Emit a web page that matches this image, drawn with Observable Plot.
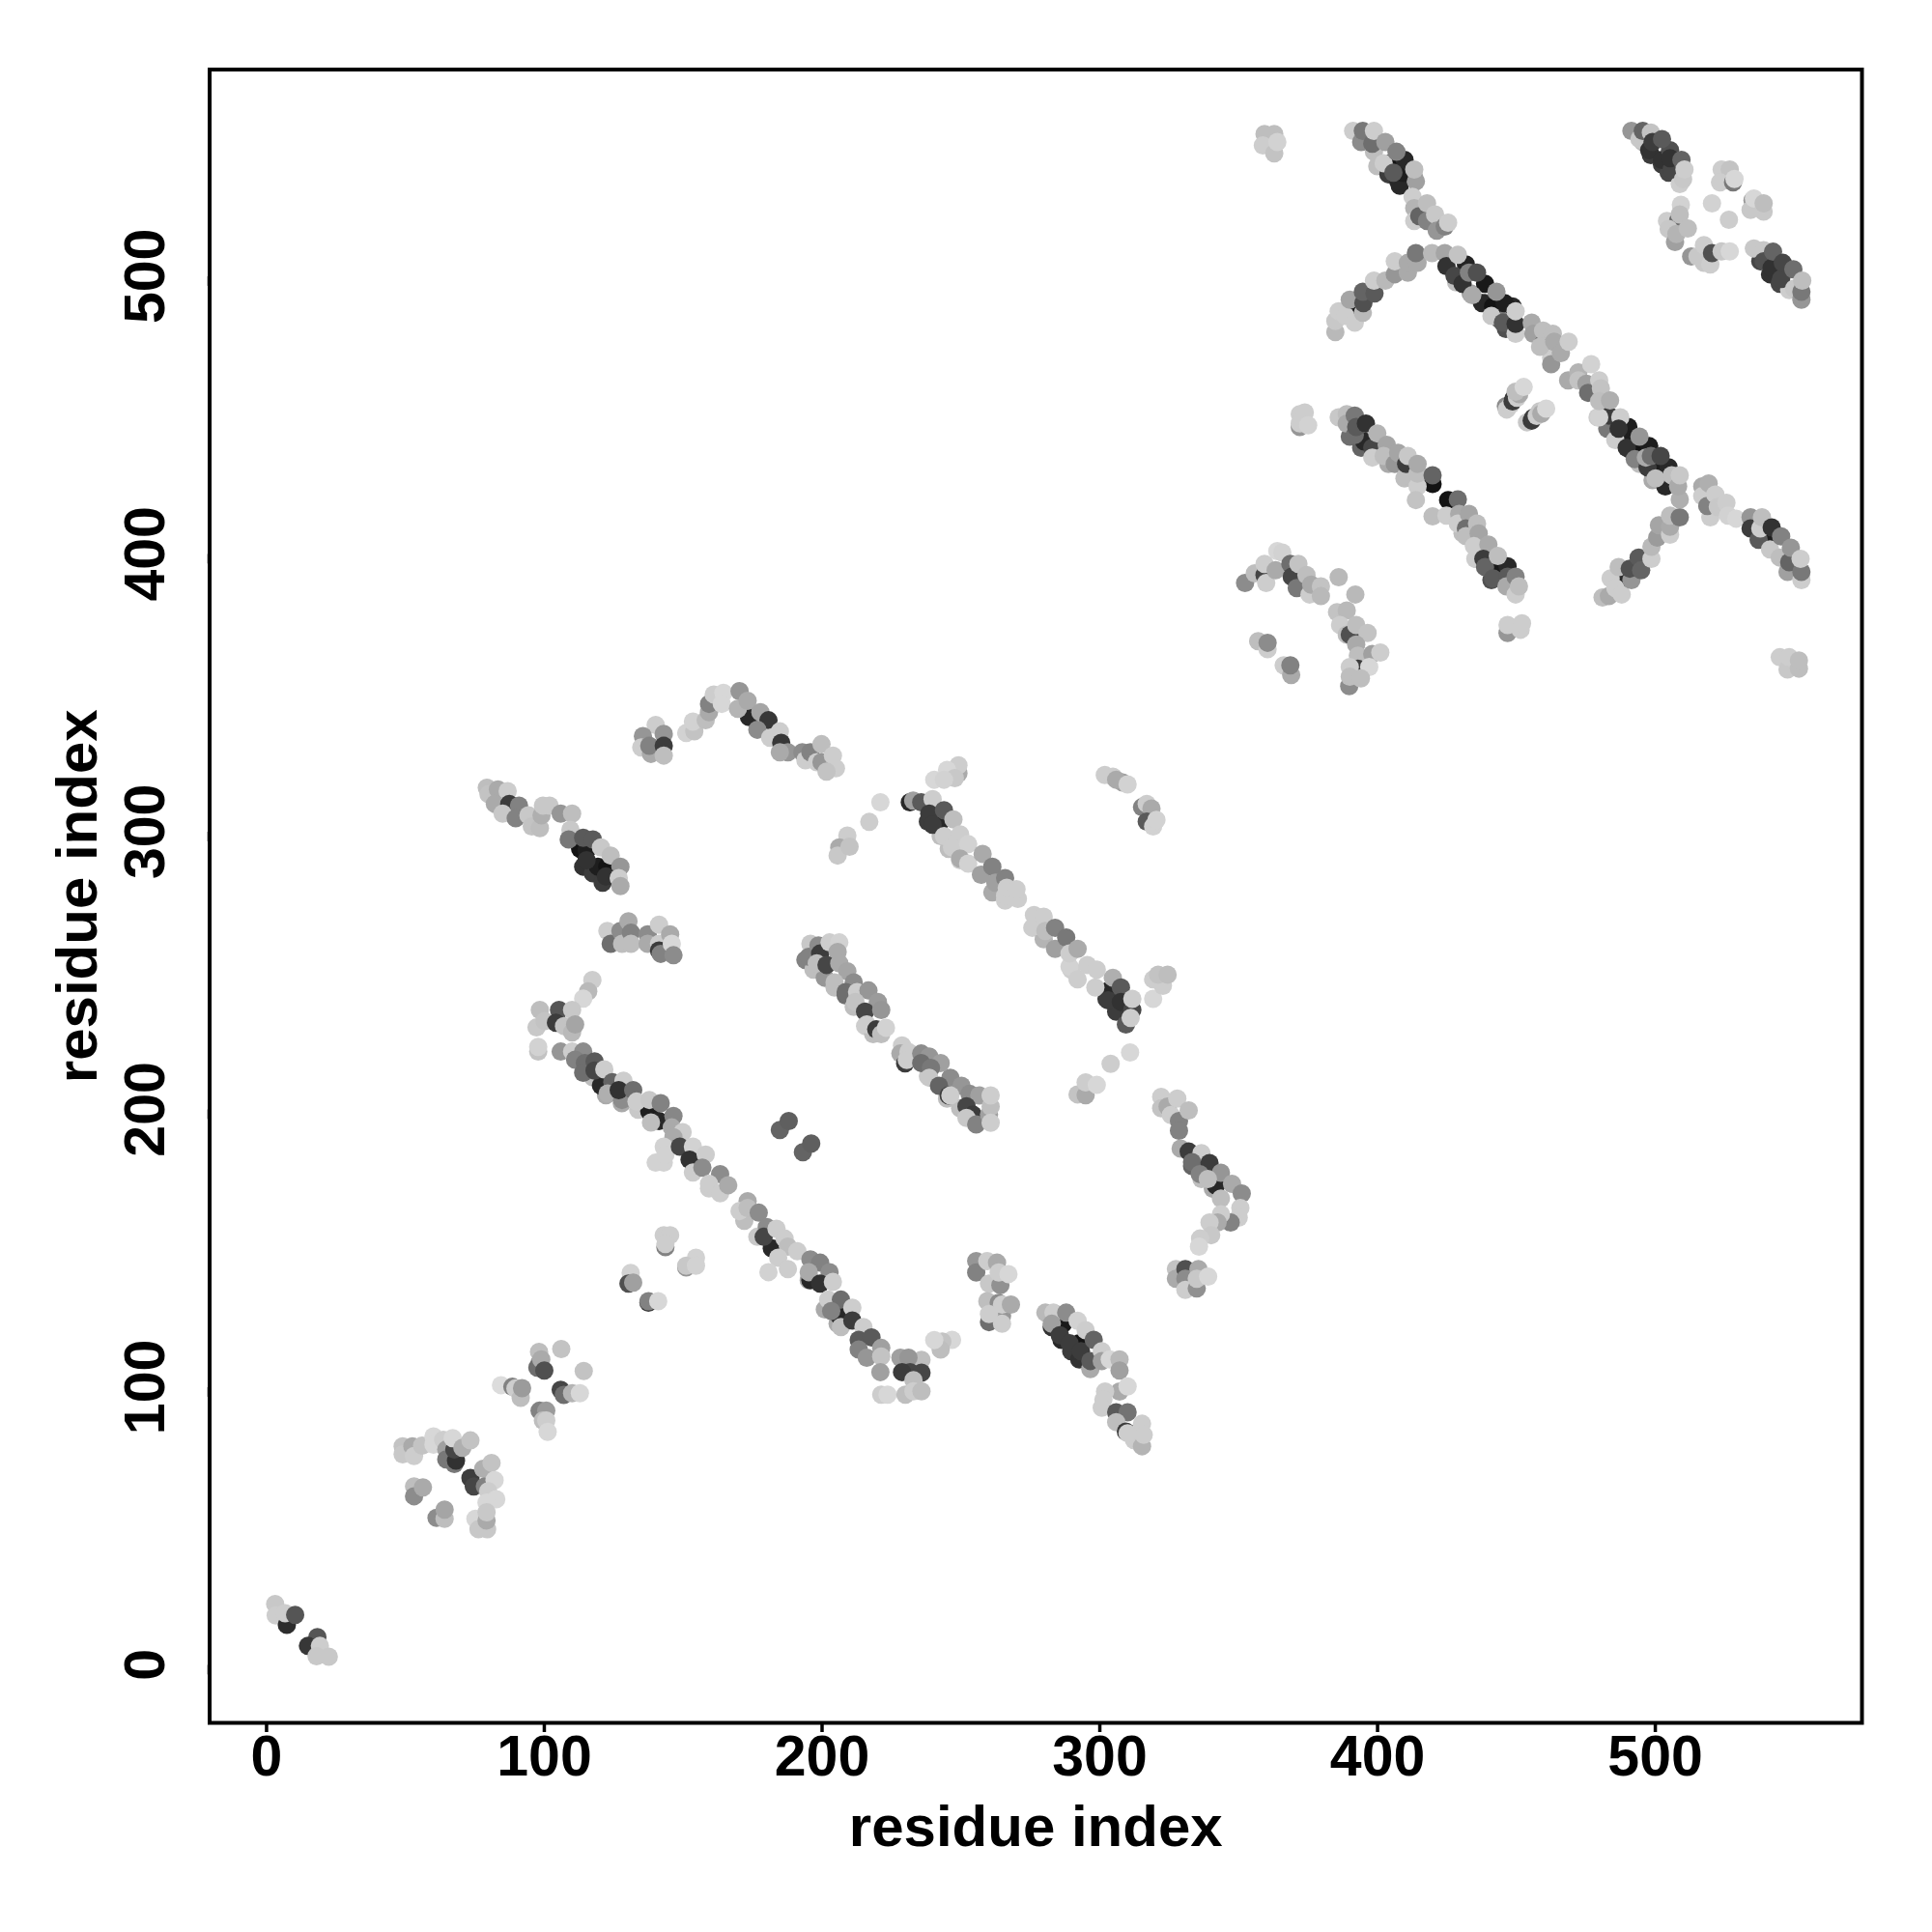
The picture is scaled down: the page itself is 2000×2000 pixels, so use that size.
<!DOCTYPE html>
<html><head><meta charset="utf-8">
<style>html,body{margin:0;padding:0;background:#fff}</style>
<script src="https://cdn.jsdelivr.net/npm/d3@7"></script>
<script src="https://cdn.jsdelivr.net/npm/@observablehq/plot@0.6"></script>
</head><body><div id="chart"></div>
<script>
// each entry: [residue i, residue j, grey level]
const c1=[[3.1,21.9,200],[3.3,17.8,205],[7.3,14.4,45],[6.7,18.6,205],[10.3,18,85],[18.3,10,85],[14.9,6.8,55],[19.2,6.8,205],[18,3.1,200],[22.4,2.9,200]];
const c2=[[49,78.7,195],[49,75.8,200],[52.5,78.7,170],[53.1,75.2,205],[56,78.9,195],[60.1,82.2,215],[60.1,79.3,215],[63.6,81,205],[64.7,77.5,160],[64.7,74,120],[67.6,72.3,120],[68.2,73.5,50],[67.6,77.5,70],[67,81.6,215],[70.5,78.1,175],[73.4,80.8,195],
[73.4,67.3,60],[74.6,64.2,70],[78,70.6,175],[78.6,64.2,130],[81,72.7,195],[82.1,66.5,215],[79.8,62.5,205],[82.7,59.6,215],[79.2,58.4,215],
[53.1,64.2,190],[53.1,60.7,140],[56.3,63.9,170],[61.2,52.9,140],[64.1,52.6,190],[64.1,55.9,165],
[75.2,52.6,215],[76.3,48.8,200],[79.4,48.8,200],[79.2,52,170],[79.2,54.9,200]];
const c3=[[98.1,112.7,190],[106.1,113.7,195],[114.2,105.8,195],[98.3,108.8,150],[97.5,107,110],[98.9,110,170],[100,106,80],
[84.4,100.7,220],[88.5,100.1,130],[89.6,99.5,205],[91.5,96.1,190],[92,99.6,155],
[105.9,99,70],[107,97.2,110],[110,97.8,180],[112.8,97.8,215],
[98.3,91.5,130],[100.7,91.5,155],[99.5,88,190],[100.7,88,205],[101.2,83.9,215]];
const c4=[[143,154.7,205],[145.3,154.7,205],[143.6,150.4,130],[143.6,151.5,205],[151.1,143.1,150],[154.6,146.6,210],[151.1,143.7,200],[154.6,143.7,210],
[131.1,141.1,210],[130.3,137.3,80],[132,137.6,160],[137.5,130.4,60],[137.5,130.9,130],[141,130.9,215]];
const b1=[[117.3,246.6,205],[115.8,242.5,185],[114,239.9,215],[98.4,235.8,190],[97.2,229.5,200],[100.1,231.8,195],[105.3,235.8,85],[104.2,231.2,60],[110,235.8,200],[107.1,230,195],[110,227.7,185],[111.1,230.6,165],
[97.8,220.8,195],[97.8,222.5,210],[105.9,220.8,150],[110,220.8,205],[114,220.8,140],[111.1,217.9,130],[114.6,216.7,110],[114,213.2,110],[118.1,217.3,90],[118.1,214,70],[121.6,214.4,205],
[120.4,208.6,40],[124.5,209.8,100],[123.9,206.3,40],[122.8,205.7,175],[128.5,210.3,205],[128,203.4,140],[126.8,206.9,50],[132,206.9,110],[133.2,202.8,205],
[137.8,199.3,30],[137.8,203.4,200],[141.9,202.2,130],[138.4,195.3,190],[141.3,195.8,40],[146.5,197.6,135],[145.9,193.5,170],
[149.8,191.8,205],[146.5,190,170],[143,186.6,210],[140.1,180.8,210],[143,180.8,210],[143.6,183.7,210],
[148.8,186.6,70],[153.5,186.6,210],[152.3,181.9,50],[158.1,183.7,205],[153.5,177.3,205],[156.9,179,140],
[163.3,176.7,140],[159.3,173.2,205],[163.3,169.8,205],[166.2,172.7,170]];
const b2=[[173.2,166.9,170],[170.3,163.4,205],[173.2,164.5,190],[177.2,162.8,140],[176.7,154.1,200],[180.1,157.6,140],[179,154.1,70],[183.6,157,205],[181.9,150,40],[186.5,153.5,205],[187.7,150.6,190],[184.2,146.6,205],[180.7,141.4,210],[187.7,142.5,205],[191.1,148.9,205],
[195.8,146,140],[199.3,144.8,130],[195.2,141.4,170],[202.7,141.4,140],[195.8,138.5,40],[199.3,137.3,50],[203.9,137.9,205],[202.2,131.5,205],[206.8,131.5,110],[203.3,127.4,130],[210.9,128.6,205],[206.2,125.7,40],[206.8,121.6,190],[210.9,124,60],[214.9,121.6,205],[213.2,117,90],[217.8,117.9,90],[213.2,113.5,130],[216.1,110.6,150],[221.3,114.1,160],[221.3,111,195],[221,105.4,160]];
const b3=[[246.8,117,215],[243.3,116.4,195],[242.7,113.5,190],[240.4,116.9,215],[235.8,109.8,190],[228.2,110.6,160],[231.1,110.6,150],[231.7,105.4,70],[228.8,105.4,60],[235.8,105.2,70],[232.9,102.5,190],[221.3,97.3,205],[223.6,97.3,215],[230,97.3,190],[232.9,98.5,205],[235.8,98.5,190]];
const pairs=[[184.8,192.6,100],[188,195.8,95],[193.1,184.6,100],[196.1,187.7,95]];
const b4=[[79.3,315.8,190],[79.9,313.5,195],[83.3,315.2,170],[86.8,314.6,205],[82.2,310,170],[87.4,310,60],[90.9,309.4,130],[85,306.5,200],[89.7,304.8,130],[94.3,305.9,200],[95.5,301.9,195],[98.4,301.3,190],[99,305.9,175],[99.5,309.4,200],[101.9,309.4,200],[105.9,306.5,150],[110,306.5,190],
[109.4,300.7,200],[108.8,297.2,120],[114,297.8,90],[117.5,297.2,90],[112.9,293.8,20],[115.2,293.2,30],[120.4,294.3,200],[115.2,289.7,50],[119.3,287.4,30],[123.9,291.4,190],[122.7,287.4,20],[127.4,287.4,150],[122.2,283.9,50],[126.8,283.3,205],[127.4,280.4,170]];
const c5=[[122.7,264.2,205],[123.9,259.6,110],[127.4,264.2,140],[128,259.6,190],[130.3,267.7,170],[131.2,263.6,130],[131.2,259.6,190],
[137.2,263,140],[137.2,259.6,170],[141.3,266.5,205],[141.3,259.6,205],[141.3,257.2,60],[141.9,256,130],[145.3,263,170],[145.9,259.6,215],[146.5,255.5,140]];
const c6=[[140.1,338.4,205],[135.5,334.4,150],[134.9,330.3,205],[138.4,328,170],[137.8,330.9,130],[143,335.2,150],[143,330.9,60],[143,327.4,190],
[151.1,335.5,210],[154,336.1,195],[153.5,339.6,210],[158.1,340.1,190],[159.3,343,170],[159.3,346,130],[161,349.4,205],[164.5,350,215],[163.9,346,215]];
const b5=[[170.3,350.6,150],[169.7,344.2,180],[173.2,347.1,170],[173.7,341.3,40],[177.8,343,165],[180.7,340.1,55],[176.7,336.7,140],[181.3,333.8,205],[184.8,336.1,205],[185.3,332,55],[187.7,328.6,150],[184.8,328.6,170],[192.9,328.6,140],[194,325.7,205],[195.8,328.6,130],[199.8,331.5,190],[198.1,325,205],[199.8,325,150],[203.9,327.4,205],[205,322.8,205],[201.6,321.6,195]];
const iso1=[[221,310.6,215],[217,303.5,205],[209.1,298.6,205],[206.2,294.3,170],[205.6,291.4,200],[209.9,294.6,195]];
const b6=[[249.1,321,170],[249.1,323.9,205],[245,322.2,215],[240.4,318.7,215],[247.8,319.3,200],[243.9,318.7,210],
[231.6,310.6,40],[232.8,311.2,160],[235.7,310.6,90],[239.8,311.7,205],[238.6,306.5,60],[243.9,307.7,90],[239.8,302.5,60],[242.7,303.6,40],[247.3,304.4,190],[243.9,298.4,205],[249.7,299,205],[246.8,294.3,205],[252.6,295.5,210],[249.7,290.3,170],[252.6,288.5,210],[257.2,284.5,160],[257.8,292,170],[261.3,287.4,130],[262.4,281.6,160],[265.9,283.3,130],[265.9,276.9,205],[266.5,279.8,205],[270.5,275.8,205],[270,279.3,205],
[276.3,265.9,205],[276.3,270,205],[279.8,269.4,205],[280.4,264.2,190],[283.9,265.4,130],[283.9,257.8,160],[287.9,261.9,120],[289.1,251.4,210],[289.1,256.1,205],[292,257.8,170],[292,246.8,205],[295.5,252,205],[298.4,243.9,205],[298.9,250.3,205],[304.7,247.4,175],[303,242.7,40],[303,239.3,60],[307.6,243.9,90],[307.6,238.7,50],[311.7,235.8,70],[311.7,239.8,205],[311.1,232.9,205],
[319.2,239.8,215],[319.2,246.8,205],[322.7,244.5,205],[321,248.5,195],[324.4,248.5,190]];
const c7=[[301.8,320.4,205],[304.7,319.8,205],[308.2,317.7,160],[305.9,318.7,170],[310,317,210],[315.2,308.8,130],[316.9,310,205],[318.6,308.3,170],[316.9,303.6,90],[319.2,301.9,210],[320.4,304.2,210]];
const b7=[[195.8,259.6,200],[195.2,254.9,130],[198.7,259,140],[199.3,256.1,60],[202.7,260.1,205],[206.2,260.1,210],[205.6,256.7,170],[198.1,252.6,190],[201.6,252,70],[206.2,252.6,170],[209.1,249.7,165],[204.5,245.7,190],[211.4,245.7,140],[208.5,242.2,110],[212.6,242.2,205],[216.7,242.8,150],[212,238.7,195],[220.1,238.7,155],[215.5,235.2,70],[221.3,235.8,150],[216.1,230.6,205],[219.5,228.8,60],[221.3,227.1,190],[223,229.4,210]];
const b8=[[228.8,223,205],[228.2,220.1,170],[231.1,220.7,205],[229.9,216.6,60],[230.5,217.8,205],[235.7,220.1,140],[238.6,219,150],[235.7,216.7,110],[242.7,216.7,160],[239.2,214.9,120],[238.6,211.4,200],[246.2,211.4,140],[242.1,208.5,100],[250.2,208.5,150],[245.6,205,60],[246.2,205,205],[253.1,205.6,140],[256.6,205,160],[252,201.1,70],[254.3,198.1,60],[252,196.9,200],[255.5,194.6,130],[260.1,198.1,160],[260.7,201,190],[260.7,205,205],[260.7,195.2,205]];
const iso2=[[310.9,220.5,215],[303.9,216.4,205],[292,205.4,195],[294.9,205.1,170],[294.9,209.7,205],[298.9,208.8,215]];
const b9=[[322.1,204.5,205],[322.1,200.4,195],[324.4,201,170],[327.9,203.9,205],[325.6,198,205],[328.5,195.8,130],[328.5,192.3,130],[332,199.6,190],
[329.1,185.9,170],[332,184.8,60],[336.6,184.2,205],[333.2,181,110],[339.5,180.7,60],[336,176.7,130],[343.6,177.2,150],[338.9,174.9,190],[341.8,172.6,40],[343.6,167.9,190],[347.6,173.2,170],[351.1,169.7,140],
[350.6,164.5,205],[350,161,205],[347.1,159.3,130],[343.6,162.2,205],[342.4,159.3,170],[339.5,159.3,205],[340.1,154.7,200],[336.1,153.5,205],[335.7,150.6,215]];
const c8=[[327.4,142.5,195],[327.4,139,170],[330.8,142.5,80],[330.8,139,140],[330.8,135,205],[335.5,142.5,170],[334.9,135.5,145],[334.9,139,200],[339,139.8,215]];
const c9=[[255.5,145.4,150],[255.5,141.3,130],[259.5,145.4,205],[263,144.8,170],[260.1,137.3,200],[264.2,136.7,145],[263.6,141.3,205],[267.1,140.7,215],
[259.5,130.9,190],[260.1,123.4,110],[263.6,130.3,140],[264.8,125.7,150],[264.8,122.8,205],[260.1,126.3,205],[264.8,129.7,205],[268,129.7,170]];
const b10=[[280.4,126.8,185],[283.9,126.3,60],[283.3,126.8,205],[287.9,126.8,140],[282.7,122.8,160],[286.8,122.8,25],[292,123.9,210],[285.6,118.7,60],[289.1,115.8,60],[294.9,120.5,205],[292.6,115.8,20],[293.2,112.9,60],[297.8,117,100],[296.6,109.4,90],[300.7,112.9,205],[300.7,109.4,160],[303.6,110,215],[307.1,110,185],[307.1,106,160],
[307.1,98.4,170],[310,100.2,215],[301.9,98.4,205],[301.3,95.5,205],[300.7,92.6,205],[305.9,90.9,90],[310,90.9,115],[305.9,87.4,190],[309.4,84,60],[312.3,80.9,205],[315.2,78.7,180],[310,83.4,205],[315.2,86.8,205],[315.8,82.8,205]];
const c10=[[352.3,389.5,140],[355.8,393,190],[359.3,392.4,70],[359.3,396.4,205],[359.9,389.5,205],[363.9,401,215],[365.7,400.5,210],[363.3,394.1,170],[368.6,396.4,110],[369.1,391.8,70],[371.5,396.4,195],[370.9,387.7,120],[374.4,392.4,190],[375.5,385.4,205],[376.1,388.9,170],[379.6,388.3,195],[379.6,384.8,185],
[386,391.6,185],[392,385.4,185],
[385.4,379,195],[388.9,379.6,185],[386.5,374.4,205],[388.9,370.9,190],[390,370.9,80],[392.3,374.4,190],[396.4,371.5,195],[392.3,367.4,170],[392.9,363.4,190],[398.1,364,160],[401,364.5,205],[392.9,358.7,60],[390,359.3,205],[397,359.3,215],[389.8,352.4,140],[390,355.8,190],[394,355.2,190],
[357,368.6,190],[360.4,365.7,205],[360.4,368,140],[366.2,359.9,205],[368.9,356.4,170],[368.6,359.9,130]];
const c11=[[372,445.7,150],[372,450.3,205],[373.8,450.9,205],[372,447,205],[375,446.3,210]];
const b11=[[386,449.2,200],[388.9,450.3,190],[388.9,446.9,170],[391.8,449.8,120],[391.8,442.8,110],[392.3,445.7,90],[395.8,446.9,50],[395.2,440.5,40],[398.1,438.2,70],[398.1,434.7,205],[399.9,443.4,180],[403.3,439.3,165],[402.2,435.3,190],[406.2,432.4,150],[407.4,436.4,165],[410.3,428.3,190],[410.3,432.4,60],[410.9,435.3,200],[414.4,424.3,205],[414.4,428.9,190],[414.4,432.4,170],
[419.8,425.2,20],[419.8,428.3,100],[413.8,419.4,195],[419.8,413.5,190],[425.4,419.4,20],[428.9,419.6,110],
[424.8,413.8,205],[429.4,414.4,170],[428.9,410.9,205],[432.9,414.4,165],[431.8,409.2,110],[431.8,406.4,190],[435.8,410.9,190],[436.4,407.4,165],[434.7,402.8,205],[439.9,403.4,170],[435.2,398.2,205],[438.1,398.2,60],[438.7,395.3,100],[441.6,391.2,90],[441.6,394.7,25],[443.3,399.3,190],[446.8,391.8,90],[446.8,395.5,40],[446.4,388.3,170],[449.7,385.4,205],[449.7,391.8,130],[450.9,388.3,190]];
const c12=[[446.8,371.5,150],[446.8,374.4,205],[451.5,372.7,205],[452,375,205]];
const b12=[[481,384.3,190],[483.3,384.8,170],[483.9,391.2,205],[486.8,395.3,190],[486.8,390.6,40],[485.6,387.7,205],[487.9,385.4,205],[491.4,390.6,150],[490.8,394.7,80],[494,398.7,90],[494.9,394.1,100],[498.6,398.2,205],[498.6,402.6,185],[500.7,405.9,155],[501.3,410.3,165],[505.3,406.9,205],[505.3,409.8,170],[505.3,413.8,190],[508.8,413.2,120]];
const b13=[[479.2,449.2,205],[482.7,445.1,120],[483.3,449.8,60],[487.4,449.2,205],[485.6,441,205],[486.8,445.1,50],[490.3,445.7,30],[489.7,441,30],[489.7,438.2,50],[492.6,434.1,130],[493.2,438.2,20],[494.3,442.2,150],[497.2,431.2,60],[496.6,434.7,170],[497.8,438.8,30],[498.4,435.3,110],[500.1,427.2,190],[500.1,430.6,30],[501.9,435.3,70],[503.6,424.3,40],[504.8,431.2,40],[505.9,428.3,190],[508.8,419.6,175],[508.2,424.3,170],[508.8,428.3,200]];
const b14=[[519.8,413.2,205],[516.9,424.3,170],[516.9,420.8,205],[518.7,417.3,130],[519.2,425.4,175],[521.6,421.4,205],[522.5,416.9,200],[525.6,418.4,205],[526.2,413.8,210],[529.1,412.7,215],
[534.3,413.2,150],[534.3,409.2,60],[537.2,405.1,90],[537.8,409.2,205],[538.4,413.2,190],[540.7,405.1,30],[541.3,401.6,200],[541.9,409.5,50],[545.3,406.3,130],[544.8,398.7,190],[547.6,393.5,160],[548.2,397,100],[548.8,402.2,150],[552.6,390.6,205],[552.6,393.5,120],[552.3,398.2,205]];
const c13=[[544.8,362.8,205],[547.6,358.4,200],[548.2,362.8,205],[551.7,358.7,190],[551.7,361.6,190]];
const c14=[[359.3,551.2,190],[362.8,551.2,190],[358.7,547.1,205],[362.8,544.2,195],[363.9,548.3,210]];
const b15=[[391.2,552.3,205],[394.1,548.3,140],[394.7,552.3,120],[398.7,544.8,190],[398.1,547.7,110],[398.7,552.3,205],[402.2,540.7,205],[402.8,548.3,160],[404.5,540.7,20],[405.7,537.3,90],[406.8,544.8,130],[407.4,534.4,40],[409.1,537.3,30],[409.7,541.9,40],[413.8,534.1,160],[413.2,538.4,190],
[412.6,528.6,205],[413.2,524.5,180],[413.2,519.9,205],[415,521.6,100],[417.8,519.9,130],[417.8,526.2,190],[420.7,522.2,200],[421.3,516.4,150],[424.2,517.9,130],[425.4,519.3,205]];
const b16=[[384.8,479.9,185],[384.8,483.9,200],[386,487.4,205],[388.4,485.7,205],[391,486.8,25],[391.8,483.3,205],[390,491.5,165],[394.7,486.8,185],[394.9,490.3,80],[394.7,494.4,100],[398.9,493.8,90],[398.7,498.4,205],[402.8,498.4,185],[406.2,500.7,150],[410.9,501.3,170],[406.2,505.4,205],[410.9,504.8,170],[414.4,504.8,170],[413.8,508.3,120],[419.6,508.3,185]];
const b17=[[424.2,508.3,165],[424.8,503.6,50],[428.9,507.7,195],[427.7,500.1,70],[431.8,504.2,35],[430.6,497.3,50],[432.9,501.3,130],[435.8,501.3,80],[434.1,493.2,170],[438.7,497.3,25],[437.6,490.3,40],[442.8,494.4,150],[441.6,489.1,20],[445.7,490.3,30],[441,485.7,200],[445.1,483.3,90],[449.7,479.3,205],[449.7,482.8,50],[449.7,487.4,205],
[455.5,483.3,170],[456.1,479.3,160],[459.6,475.8,110],[459.6,480.4,190],[462.5,470.6,205],[458.5,474.6,190],[462.5,468.3,150],[463.1,479.3,190],[463.6,476.4,170],[466,472.3,170],[468.8,476.4,205]];
const b18=[[468.6,462.5,170],[472.3,465.4,180],[472.3,462.5,195],[475.2,461.3,160],[475.8,458,110],[476.9,468.3,210],[479.8,462.5,205],[480.4,459.6,195],[479.8,449.2,210],[479.8,455,190],[483.7,455.3,175]];
const c15=[[446.2,453.2,140],[446.5,452,205],[448,453.8,205],[448.6,454.9,60],[449,456,60],[450.2,456.2,205],[451,457.5,170],[449.7,458.4,190],[452.6,460.1,215],[453.8,447.4,200],[455.5,448,60],[456,449,60],[457.3,449.7,205],[458.4,451.4,200],[459,450.5,170],[460.7,452.3,215]];
const b19=[[491.4,552.3,150],[494.3,549.4,200],[495.5,552.3,100],[497.8,545.4,50],[498.4,551.7,195],[499,548.3,60],[502.4,541.9,50],[505.9,538.4,70],[505.3,545.4,80],[505.3,542.5,50],[502.4,549.4,90],[509.4,541.9,100],[510,534.9,200],[510.5,538.4,205]];
const c16=[[523.9,538.4,205],[526.8,538.4,195],[523.3,533.8,205],[528,533.8,120],[528.5,535,215],[520.4,526.2,210],[526.5,520.3,205],[535,527.3,150],[534.3,523.9,200],[539,523.3,200],[535.5,528,215],[539,526.2,190]];
const c17=[[504.2,519.9,205],[509.2,525.7,210],[508.2,519.9,110],[508.8,522.2,190],[504.8,517,200],[507.1,512.3,160],[507.6,515.2,180],[511.7,517.2,190],[512.9,507.1,150],[515.2,507.1,200],[517.5,504.8,200],[519.8,504.2,205],[517.5,511.2,205],[520.4,508.3,80],[523.9,508.9,200],[526.8,508.9,215]];
const b20=[[535.5,510,200],[539,509.4,200],[539,505.4,80],[541.9,503,50],[542.4,508.8,100],[545.3,499,70],[545.9,504.8,70],[545.9,502.5,40],[549.7,502.5,110],[550,495.5,200],[552.6,491.5,150],[552.6,494.4,120],[552.9,498.4,190]];
// points seen only at the lower edge of the bands, drawn first
const edges=[[117.5,211.5,190],[122.2,205.1,170],[127.9,202.2,170],[133.8,199.9,200],[159.3,171.5,205],[172,159.9,190],[195.2,138.5,170],[201,128,170],[205.6,122.8,170],
[114,287.4,50],[117.5,285,60],[121,281.6,60],
[194,253.8,130],[196.9,250.3,190],[201,247.4,150],[204.5,243.9,190],[208.5,241,110],[211.4,236.9,190],[215.5,230,205],[218.4,227.1,190],
[238.1,212,200],[245,203.9,190],[249.7,200.4,190],
[238.1,303.6,60],[242.7,298.4,190],[245.6,293.8,190],[249.7,289.7,205],[261.3,278.1,170],[265.9,275.2,205],[275.7,265.4,205],[279.8,261.3,180],[289.7,250.3,205],[302.4,239.8,60],[305.9,235.2,60],[309.4,230.6,90],
[333.2,179.6,100],[336.6,174.9,190],[340.7,171.4,170],
[282.7,121.6,50],[286.2,117,40],[289.7,112.9,60],[292.6,110,50],[296.6,106.5,170],
[390,442.2,110],[394.1,438.2,100],[403.9,432.4,170],[409.7,427.2,190],[430.6,407.4,190],[441,390.6,80],
[399.9,539.6,190],[403.9,536.7,60],[408,532.6,40],[413.2,535.5,170],
[428.3,497.8,190],[433.5,493.8,160],[438.7,490.3,60],[443.9,484.5,120],[446.2,481,80],[448.6,489.1,40],
[490.8,437.6,40],[494.3,432.4,190],[499,426.6,170],
[495.5,548.3,190],[498.4,543.6,60],[502.4,540.2,60],[504.8,537.3,70],[508.8,533.2,205],
[537.8,505.4,70],[541.3,500.7,50],[544.8,497.3,70],[548.2,495,205]];

const groups=[c1,c2,c3,c4,b1,b2,b3,pairs,b4,c5,c6,b5,iso1,b6,c7,b7,b8,iso2,b9,c8,c9,b10,c10,c11,b11,c12,b12,b13,b14,c13,c14,b15,b16,b17,b18,c15,b19,c16,c17,b20];
// the darkest contacts lie under the lighter ones in each band
const contacts=[...edges,...groups.flatMap(g=>d3.sort(g,d=>d[2]<45?0:1))];
const xTicks=[0,100,200,300,400,500];
const yTicks=[0,100,200,300,400,500];
const axisTitle="residue index";
const tickFont={fontFamily:"Liberation Sans",fontWeight:"bold",fontSize:59,fill:"#000"};
const titleFont={...tickFont,fontSize:60};

const chart=Plot.plot({
  width:2000,height:2000,
  marginLeft:216.5,marginRight:73,marginTop:71.5,marginBottom:217,
  style:{background:"#fff",fontFamily:"Liberation Sans"},
  x:{domain:[-20.5,574.4]},
  y:{domain:[-20.9,574.4]},
  marks:[
    Plot.dot(contacts,{x:d=>d[0],y:d=>d[1],r:9.5,fill:d=>`rgb(${d[2]},${d[2]},${d[2]})`,stroke:"none"}),
    Plot.axisX({ticks:xTicks,tickSize:10,tickPadding:3,strokeWidth:3.5,stroke:"#000",label:null,tickFormat:d=>String(d),...tickFont,lineAnchor:"top"}),
    Plot.axisY({ticks:yTicks,tickSize:10,tickPadding:37,strokeWidth:3.5,stroke:"#000",label:null,tickFormat:d=>String(d),...tickFont,rotate:-90,textAnchor:"middle",lineAnchor:"bottom"}),
    Plot.frame({stroke:"#000",strokeWidth:4}),
    Plot.text([axisTitle],{frameAnchor:"bottom",dy:127,lineAnchor:"bottom",...titleFont}),
    Plot.text([axisTitle],{frameAnchor:"left",textAnchor:"middle",dx:-117.5,lineAnchor:"bottom",rotate:-90,...titleFont})
  ]
});
document.getElementById("chart").appendChild(chart);
</script></body></html>
